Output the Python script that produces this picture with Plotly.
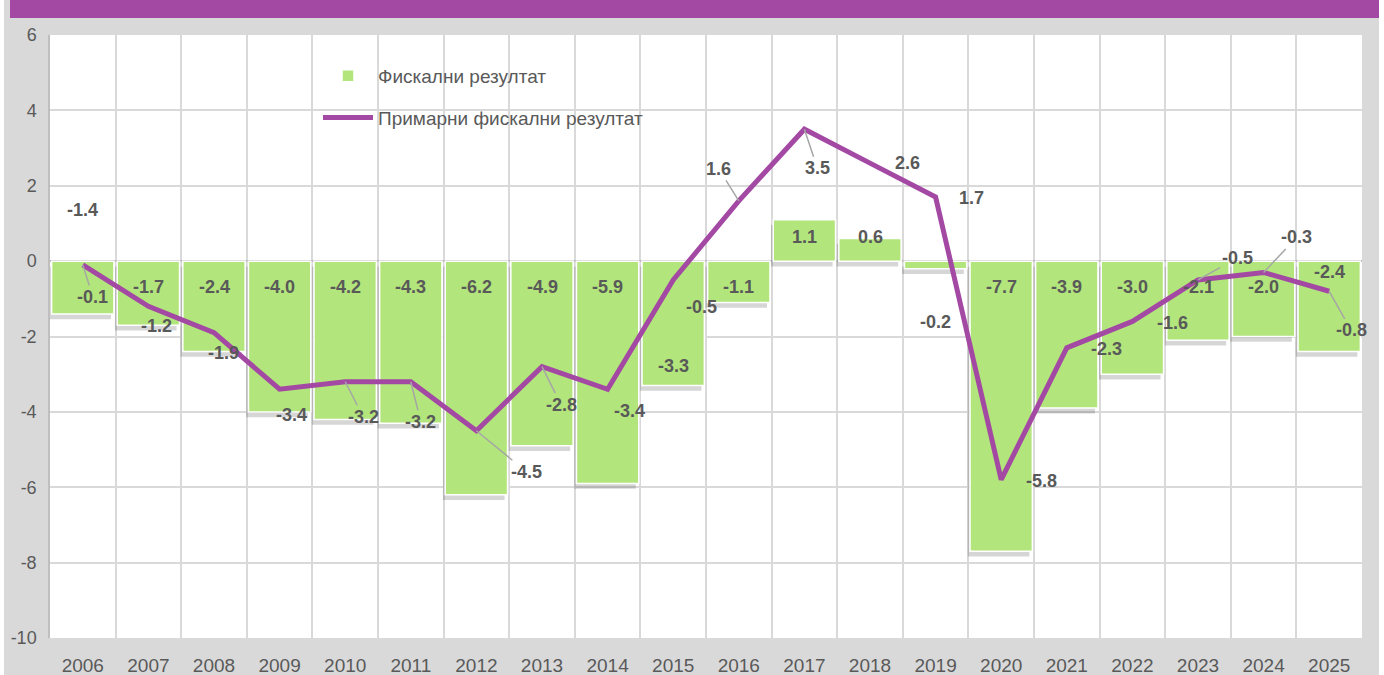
import plotly.graph_objects as go

years = [str(y) for y in range(2006, 2026)]
fiscal = [-1.4, -1.7, -2.4, -4.0, -4.2, -4.3, -6.2, -4.9, -5.9, -3.3,
          -1.1, 1.1, 0.6, -0.2, -7.7, -3.9, -3.0, -2.1, -2.0, -2.4]
primary = [-0.1, -1.2, -1.9, -3.4, -3.2, -3.2, -4.5, -2.8, -3.4, -0.5,
           1.6, 3.5, 2.6, 1.7, -5.8, -2.3, -1.6, -0.5, -0.3, -0.8]
y_ticks = [6, 4, 2, 0, -2, -4, -6, -8, -10]
y_tick_text = ["6", "4", "2", "0", "-2", "-4", "-6", "-8", "-10"]

# label placement (pixel offsets) -- styling only
bar_label_dy = [-51, 26, 26, 26, 26, 26, 26, 26, 26, 105,
                26, -24, -24, 61, 26, 26, 26, 26, 26, 11]
line_label_off = [(10, 32), (8, 20), (9, 20), (12, 26), (18, 35), (10, 40),
                  (50, 41), (19, 38), (22, 22), (28, 27), (-20, -32), (13, 39),
                  (37, 0), (36, 1), (40, 1), (40, 1), (40, 2), (39, -22),
                  (33, -35), (22, 39)]
leader = [True, False, False, False, True, True, True, True, False, False,
          True, True, False, False, False, False, False, True, True, True]

GREEN = "#B2E57B"
PURPLE = "#A349A4"
TXT = "#595959"
FONT = "Liberation Sans"

fig = go.Figure()
# soft shadow under bars
fig.add_trace(go.Bar(x=years, y=fiscal, base=[-0.14] * len(fiscal),
                     width=0.94, offset=-0.51,
                     marker=dict(color="rgba(0,0,0,0.16)", line=dict(width=0)),
                     showlegend=False, hoverinfo="skip"))
fig.add_trace(go.Bar(x=years, y=fiscal, name="Фискални резултат",
                     width=0.95, offset=-0.475,
                     marker=dict(color=GREEN, line=dict(color="white", width=1.5)),
                     legendgroup="a"))
fig.add_trace(go.Scatter(x=years, y=primary, mode="lines",
                         name="Примарни фискални резултат",
                         line=dict(color=PURPLE, width=5),
                         legendgroup="b"))

ann = []
for i, (v, dy) in enumerate(zip(fiscal, bar_label_dy)):
    ann.append(dict(x=i, y=0, xref="x", yref="y", text="<b>%.1f</b>" % v,
                    showarrow=False, yshift=-dy,
                    font=dict(family=FONT, size=18, color=TXT)))
for i, (v, (dx, dy), ld) in enumerate(zip(primary, line_label_off, leader)):
    ann.append(dict(x=i, y=v, xref="x", yref="y", text="<b>%.1f</b>" % v,
                    showarrow=True, ax=dx, ay=dy, arrowhead=0, arrowwidth=1.5,
                    arrowcolor="#A6A6A6" if ld else "rgba(0,0,0,0)",
                    font=dict(family=FONT, size=18, color=TXT)))

W, H = 1384, 675
L, R, T, B = 50, 22, 35, 37
pw, ph = W - L - R, H - T - B
def px(x):
    return (x - L) / pw
def py(y):
    return (H - B - y) / ph

shapes = [
    dict(type="rect", xref="paper", yref="paper", x0=px(0), x1=px(4), y0=py(H), y1=py(0),
         fillcolor="white", line=dict(width=0), layer="below"),
    dict(type="rect", xref="paper", yref="paper", x0=px(1379), x1=px(W), y0=py(H), y1=py(0),
         fillcolor="white", line=dict(width=0), layer="below"),
    dict(type="rect", xref="paper", yref="paper", x0=px(10), x1=px(1379), y0=py(18), y1=py(0),
         fillcolor=PURPLE, line=dict(width=0), layer="below"),
]

fig.update_layout(
    width=W, height=H,
    margin=dict(l=L, r=R, t=T, b=B, autoexpand=False),
    paper_bgcolor="#D9D9D9", plot_bgcolor="white",
    barmode="overlay",
    font=dict(family=FONT, size=16, color=TXT),
    showlegend=True,
    legend=dict(x=px(318), y=py(57), xanchor="left", yanchor="top",
                bgcolor="rgba(0,0,0,0)", font=dict(size=19, color=TXT),
                itemwidth=50, traceorder="grouped", tracegroupgap=14),
    annotations=ann, shapes=shapes,
    xaxis=dict(type="category", tickson="boundaries", showgrid=True,
               gridcolor="#D9D9D9", gridwidth=1.5, showline=False,
               ticks="", ticklabelstandoff=14, automargin=False,
               tickfont=dict(size=19, color=TXT), zeroline=False,
               range=[-0.5, 19.5]),
    yaxis=dict(range=[-10, 6], tickvals=y_ticks, ticktext=y_tick_text, showgrid=True,
               gridcolor="#D9D9D9", gridwidth=1.5, zeroline=True,
               zerolinecolor="#BFBFBF", zerolinewidth=1.5,
               showline=True, linecolor="#BFBFBF", linewidth=1.5, automargin=False,
               ticks="outside", ticklen=8, tickcolor="rgba(0,0,0,0)",
               tickfont=dict(size=18, color=TXT)),
)

fig.write_html("out.html", config={"displayModeBar": False},
               post_script="document.body.style.margin='0';document.body.style.padding='0';document.body.style.overflow='hidden';")
